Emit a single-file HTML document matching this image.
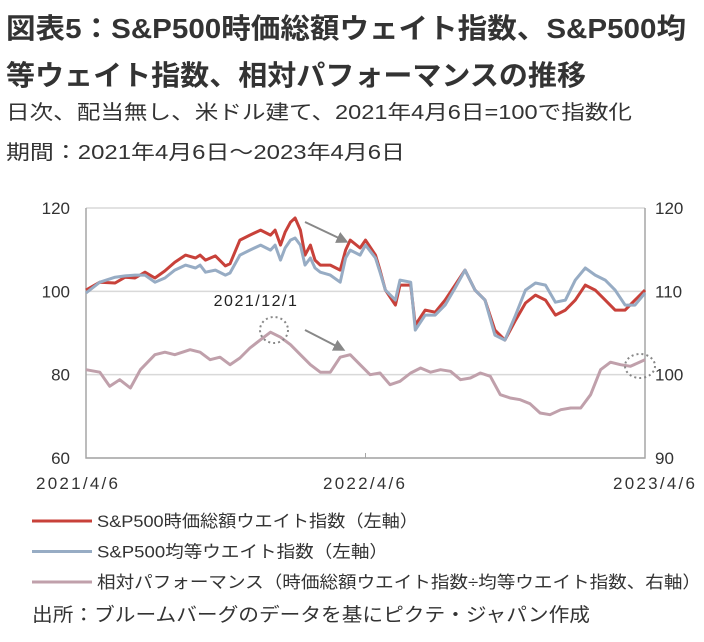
<!DOCTYPE html>
<html><head><meta charset="utf-8"><style>
body{margin:0;background:#fff;width:704px;height:642px;overflow:hidden;font-family:"Liberation Sans","Noto Sans CJK JP",sans-serif;color:#222}
</style></head><body>
<svg id="chart" width="704" height="642" style="position:absolute;left:0;top:0" font-family="Liberation Sans, Noto Sans CJK JP, sans-serif">
<text x="6" y="38" font-size="28" font-weight="bold" fill="#333" textLength="680" lengthAdjust="spacingAndGlyphs">図表5：S&amp;P500時価総額ウェイト指数、S&amp;P500均</text>
<text x="6" y="85" font-size="28" font-weight="bold" fill="#333" textLength="580" lengthAdjust="spacingAndGlyphs">等ウェイト指数、相対パフォーマンスの推移</text>
<text x="6" y="119" font-size="20" fill="#333" textLength="626" lengthAdjust="spacingAndGlyphs">日次、配当無し、米ドル建て、2021年4月6日=100で指数化</text>
<text x="6" y="159" font-size="20" fill="#333" textLength="399" lengthAdjust="spacingAndGlyphs">期間：2021年4月6日～2023年4月6日</text>
<text x="32" y="621" font-size="19" fill="#333" textLength="558" lengthAdjust="spacingAndGlyphs">出所：ブルームバーグのデータを基にピクテ・ジャパン作成</text>
</svg>
<script>
const days=[0,18,38,51,64,77,90,103,116,130,143,149,156,169,182,188,201,214,228,241,247,254,260,267,273,280,286,293,299,306,319,332,339,345,358,365,378,384,391,404,410,424,430,443,456,469,482,495,508,521,534,547,561,574,587,600,613,626,639,652,665,678,691,704,717,730];
const capWeighted=[100.3,102.2,102.0,103.4,103.2,104.6,103.2,104.9,107.0,108.7,108.0,108.7,107.5,108.5,106.1,106.6,112.3,113.5,114.7,113.5,114.7,111.1,114.2,116.6,117.6,114.7,108.7,111.1,107.5,106.3,106.3,105.1,109.9,112.3,110.4,112.3,108.7,105.1,100.3,96.7,101.5,101.5,91.9,95.5,95.0,97.9,101.5,105.1,100.3,97.9,90.7,88.3,93.1,97.2,99.1,97.9,94.3,95.5,97.9,101.5,100.3,97.9,95.5,95.5,97.9,100.3];
const equalWeighted=[99.6,102.2,103.4,103.7,103.9,103.9,102.2,103.2,105.1,106.3,105.6,106.3,104.6,105.1,103.9,104.4,108.7,109.9,111.1,109.9,111.1,107.5,110.4,112.3,112.8,111.1,106.3,108.0,105.6,104.6,103.9,102.2,108.0,109.9,108.7,111.1,108.0,104.6,100.3,97.9,102.7,102.2,90.7,94.3,94.3,96.7,100.8,105.1,100.3,97.9,89.5,88.3,94.3,100.3,102.0,101.5,97.4,97.9,102.7,105.6,103.9,102.7,100.3,96.7,96.7,99.6];
const relDays=[0,18,31,44,58,71,90,103,116,136,149,162,175,188,201,214,228,241,254,267,280,293,306,319,332,345,358,371,384,397,410,424,437,450,463,476,489,502,515,528,541,554,567,580,593,606,620,633,646,659,672,685,698,711,730];
const relative=[100.6,100.3,98.6,99.4,98.4,100.6,102.4,102.7,102.4,103.0,102.7,101.8,102.1,101.2,102.0,103.2,104.2,105.1,104.5,103.6,102.4,101.2,100.3,100.3,102.1,102.4,101.2,100.0,100.2,98.8,99.2,100.2,100.8,100.3,100.6,100.4,99.4,99.6,100.2,99.8,97.6,97.2,97.0,96.5,95.4,95.2,95.8,96.0,96.0,97.6,100.6,101.5,101.2,101.0,101.8];
const leftTicks=[120,100,80,60];
const rightTicks=[120,110,100,90];
const xTickLabels=["2021/4/6","2022/4/6","2023/4/6"];
const legendLabels=["S&P500時価総額ウエイト指数（左軸）","S&P500均等ウエイト指数（左軸）","相対パフォーマンス（時価総額ウエイト指数÷均等ウエイト指数、右軸）"];

const X0=86,X1=645,Y0=208,Y1=458;
const xs=d=>X0+d/730*(X1-X0);
const yl=v=>Y0+(120-v)/60*(Y1-Y0);
const yr=v=>Y0+(120-v)/30*(Y1-Y0);
const svg=document.getElementById('chart');
const NS='http://www.w3.org/2000/svg';
function mk(tag,attrs,parent){const e=document.createElementNS(NS,tag);for(const k in attrs)e.setAttribute(k,attrs[k]);(parent||svg).appendChild(e);return e;}

leftTicks.forEach(v=>{
  const g=mk('line',{x1:X0,x2:X1,y1:yl(v),y2:yl(v),stroke:'#d9d9d9','stroke-width':1.5});
  
  
});
const frame=mk('path',{d:`M${X0} ${Y0}V${Y1}H${X1}V${Y0}`,fill:'none',stroke:'#a6a6a6','stroke-width':1.5});


const xt=mk('line',{x1:xs(365),x2:xs(365),y1:Y1,y2:Y1-5,stroke:'#a6a6a6'});



leftTicks.forEach(v=>{
  const t=mk('text',{x:70,y:yl(v)+6,'text-anchor':'end','font-size':17,fill:'#333'});t.textContent=v;
  
  
});
rightTicks.forEach(v=>{
  const t=mk('text',{x:655,y:yr(v)+6,'font-size':17,fill:'#333'});t.textContent=v;
  
  
});
[36,323,613].forEach((px,i)=>{
  const t=mk('text',{x:px,y:489,'font-size':17,fill:'#333',textLength:82,lengthAdjust:'spacing'});t.textContent=xTickLabels[i];
  
  
});

function series(dd,vals,yf,color,name){
  const p=mk('polyline',{points:dd.map((d,i)=>xs(d).toFixed(1)+','+yf(vals[i]).toFixed(1)).join(' '),fill:'none',stroke:color,'stroke-width':3,'stroke-linejoin':'round'});
  
  
}
series(relDays,relative,yr,'#c0a0ab','relative-performance-line');
series(days,capWeighted,yl,'#c8413a','cap-weighted-line');
series(days,equalWeighted,yl,'#97acc4','equal-weighted-line');

mk('defs',{}).innerHTML='<marker id="ah" markerWidth="6" markerHeight="6" refX="3" refY="3" orient="auto"><path d="M0,0L6,3L0,6z" fill="#888"/></marker>';
[[305,222,343,240],[305,330,340,348]].forEach(a=>{
  const l=mk('line',{x1:a[0],y1:a[1],x2:a[2],y2:a[3],stroke:'#888','stroke-width':2,'marker-end':'url(#ah)'});
  
  
});
[[274,330,14,13],[640,366,15,12]].forEach(c=>{
  const e=mk('ellipse',{cx:c[0],cy:c[1],rx:c[2],ry:c[3],fill:'none',stroke:'#888','stroke-width':2,'stroke-dasharray':'2 3'});
  
  
});
const an=mk('text',{x:256,y:306,'text-anchor':'middle','font-size':16,fill:'#222','letter-spacing':'1.5'});an.textContent='2021/12/1';



const lc=['#c8413a','#97acc4','#c0a0ab'];
const lw=[321,291,604];
legendLabels.forEach((s,i)=>{
  const y=521+i*30.5;
  const l=mk('line',{x1:32,x2:92,y1:y,y2:y,stroke:lc[i],'stroke-width':3});
  
  
  const t=mk('text',{x:97,y:y+6,'font-size':17,fill:'#333',textLength:lw[i],lengthAdjust:'spacingAndGlyphs'});t.textContent=s;
  
  
});
</script>
</body></html>
